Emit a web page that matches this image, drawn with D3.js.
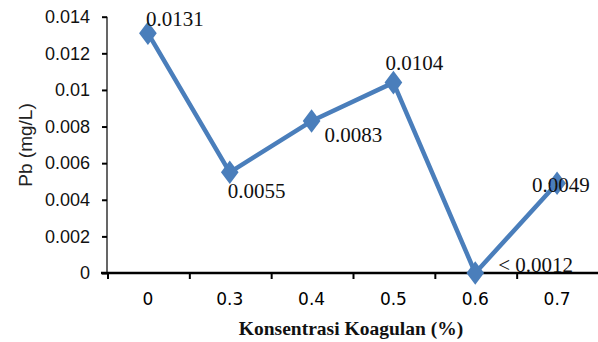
<!DOCTYPE html>
<html><head><meta charset="utf-8">
<script src="https://cdn.jsdelivr.net/npm/d3@7"></script>
<style>body{margin:0;background:#fff;}svg{display:block;}</style>
</head><body>
<svg id="c" width="598" height="342"></svg>
<script>
const categories = ["0","0.3","0.4","0.5","0.6","0.7"];
const values = [0.0131,0.0055,0.0083,0.0104,0,0.0049];
const labels = ["0.0131","0.0055","0.0083","0.0104","< 0.0012","0.0049"];
const yTicks = [0,0.002,0.004,0.006,0.008,0.01,0.012,0.014];
const yTickLabels = ["0","0.002","0.004","0.006","0.008","0.01","0.012","0.014"];
const xTitle = "Konsentrasi Koagulan (%)";
const yTitle = "Pb (mg/L)";

const svg = d3.select("#c");
const mL=107, mR=598, mT=16.7, mB=273;
const x = d3.scaleBand().domain(categories).range([mL,mR]);
const y = d3.scaleLinear().domain([0,0.014]).range([mB,mT]);
const blue="#4a7ebb";

// y axis
const ya = svg.append("g").attr("transform",`translate(${mL},0)`)
  .call(d3.axisLeft(y).tickValues(yTicks).tickSize(5).tickPadding(12)
    .tickFormat((d,i)=>yTickLabels[i]));
ya.select(".domain").attr("stroke","#000").attr("stroke-width",1.2).attr("d",`M0,${mT}V${mB}`);
ya.selectAll(".tick line").attr("stroke","#000").attr("stroke-width",2);
ya.selectAll(".tick text").attr("font-family","Liberation Sans, Arial, sans-serif").attr("font-size",18).attr("fill","#111");

// x axis
const xa = svg.append("g").attr("transform",`translate(0,${mB})`)
  .call(d3.axisBottom(x).tickSize(0).tickPadding(20));
xa.select(".domain").remove();
xa.selectAll(".tick text").attr("font-family","DejaVu Sans, sans-serif").attr("font-size",17).attr("fill","#000");
svg.append("line").attr("x1",mL-6).attr("x2",mR).attr("y1",mB).attr("y2",mB).attr("stroke","#000").attr("stroke-width",2.5);
const bounds = categories.map(c=>x(c));
svg.selectAll(".xt").data(bounds).enter().append("line")
  .attr("x1",d=>d+1).attr("x2",d=>d+1).attr("y1",mB).attr("y2",mB+6)
  .attr("stroke","#000").attr("stroke-width",2);

// line
const pts = categories.map((c,i)=>[x(c)+x.bandwidth()/2, y(values[i])]);
svg.append("path").attr("d",d3.line()(pts)).attr("fill","none").attr("stroke",blue).attr("stroke-width",4.5).attr("stroke-linejoin","round");
const sym = d3.symbol().type(d3.symbolDiamond).size(160);
svg.selectAll(".m").data(pts).enter().append("path")
  .attr("transform",d=>`translate(${d[0]},${d[1]}) scale(1.3,1)`).attr("d",sym).attr("fill",blue);

// data labels
const off = [[-2,-7],[-2,26],[13,21],[-8,-13],[23,-1],[-25,9]];
svg.selectAll(".dl").data(pts).enter().append("text")
  .attr("x",(d,i)=>d[0]+off[i][0]).attr("y",(d,i)=>d[1]+off[i][1])
  .attr("font-family","Liberation Serif, Times New Roman, serif").attr("font-size",21).attr("fill","#111")
  .text((d,i)=>labels[i]);

// titles
svg.append("text").attr("x",351).attr("y",335).attr("text-anchor","middle")
  .attr("font-family","Liberation Serif, Times New Roman, serif").attr("font-size",19.5).attr("font-weight","bold").attr("fill","#111").text(xTitle);
svg.append("text").attr("transform","translate(32,145) rotate(-90)").attr("text-anchor","middle")
  .attr("font-family","Liberation Sans, Arial, sans-serif").attr("font-size",19).attr("fill","#222").text(yTitle);
</script>
</body></html>
